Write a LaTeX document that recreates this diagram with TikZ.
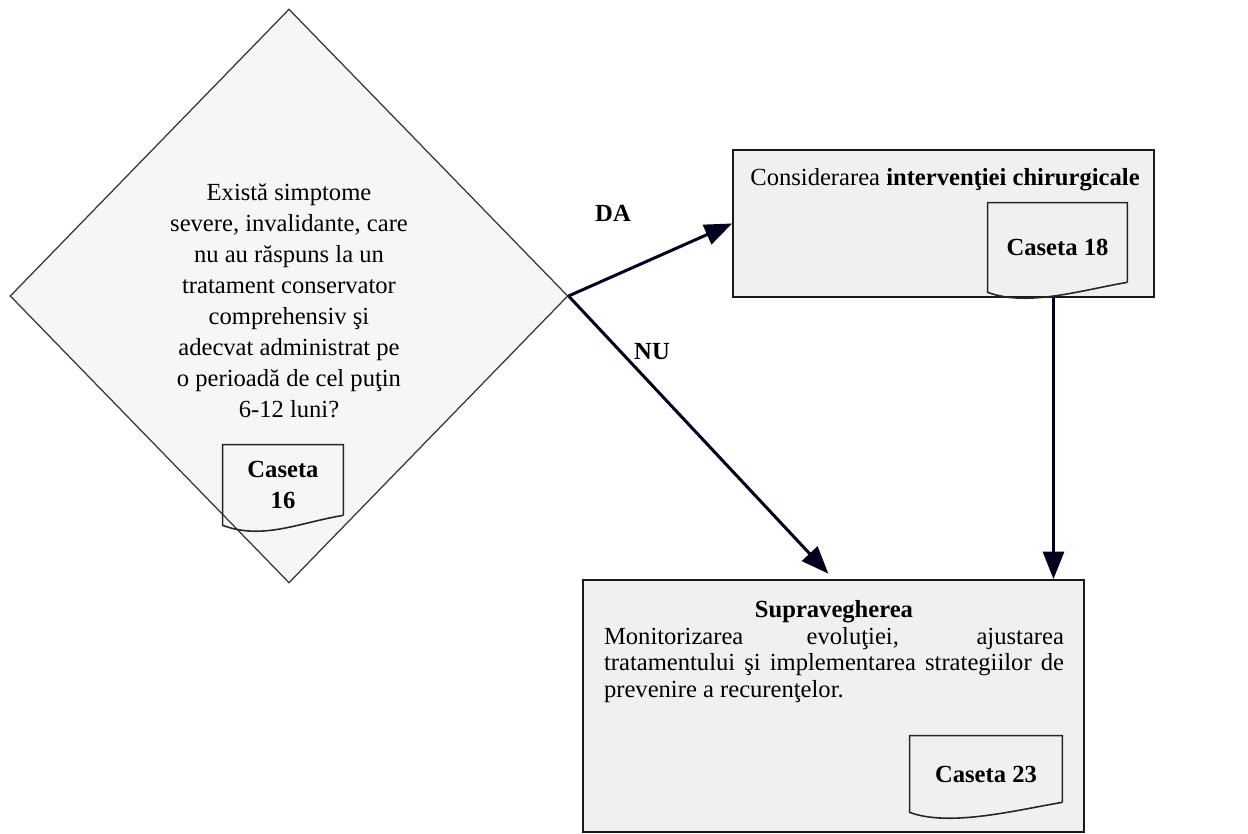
\documentclass[tikz,border=0pt]{standalone}
\usepackage{fontspec}
\setmainfont{Liberation Serif}
\usepackage{tikz}
\usetikzlibrary{arrows.meta,shapes.geometric,positioning}

\begin{document}
\begin{tikzpicture}[x=0.02cm,y=-0.02cm]
\tikzstyle{every node}=[font=\fontsize{14}{17.6}\selectfont]
\tikzstyle{decision}=[diamond,draw=black!80,line width=0.7pt,fill=gray!7,inner sep=0pt,minimum width=11.16cm,minimum height=11.48cm]
\tikzstyle{block}=[rectangle,draw=black!90,line width=1pt,fill=gray!12]
\tikzstyle{caseta}=[rectangle,inner sep=0pt,align=center,font=\fontsize{14}{17.6}\selectfont\bfseries]
\tikzstyle{lbl}=[font=\fontsize{14}{17.6}\selectfont\bfseries]
\tikzstyle{arr}=[draw=black!88!blue,line width=0.06cm,-{Triangle[length=0.55cm,width=0.42cm]}]
\useasboundingbox (0,0) rectangle (1248,834);

\node[decision] (d16) at (289,296) {};
\node[align=center] (q16) at (289,301) {Există simptome\\severe, invalidante, care\\nu au răspuns la un\\tratament conservator\\comprehensiv şi\\adecvat administrat pe\\o perioadă de cel puţin\\6-12 luni?};
\node[caseta,minimum width=2.4cm,minimum height=1.6cm] (c16) at (283,485) {Caseta\\16};

\node[block,minimum width=8.42cm,minimum height=2.94cm] (b18) at (943.5,223.5) {};
\node (t18) at (945,180) {Considerarea \textbf{intervenţiei chirurgicale}};
\node[caseta,minimum width=2.78cm,minimum height=1.78cm] (c18) at (1057.5,247.5) {Caseta 18};

\node[block,minimum width=10.02cm,minimum height=5.04cm] (b23) at (833.5,706) {};
\node[lbl] (t23) at (834,612) {Supravegherea};
\node[text width=9.2cm,align=justify,inner sep=0pt,font=\fontsize{14}{15}\selectfont] (p23) at (834,665) {Monitorizarea evoluţiei, ajustarea\linebreak tratamentului şi implementarea strategiilor de\linebreak prevenire a recurenţelor.};
\node[caseta,minimum width=3.04cm,minimum height=1.52cm] (c23) at (986,774) {Caseta 23};

\foreach \c in {c16,c18,c23}
  \draw[draw=black!85,line width=0.9pt] ([yshift=0.2cm]\c.south east) -- (\c.north east) -- (\c.north west) -- (\c.south west) .. controls +(0.8cm,-0.3cm) and +(-0.9cm,-0.15cm) .. ([yshift=0.2cm]\c.south east);

\draw[arr] (d16.east) -- (b18.west);
\draw[arr,shorten >=0.15cm] (d16.east) -- (b23.north);
\draw[arr] ([xshift=2.2cm]b18.south) -- ([xshift=2.2cm]b18.south |- b23.north);

\node[lbl] (da) at (613,213) {DA};
\node[lbl] (nu) at (652,352) {NU};
\end{tikzpicture}
\end{document}
